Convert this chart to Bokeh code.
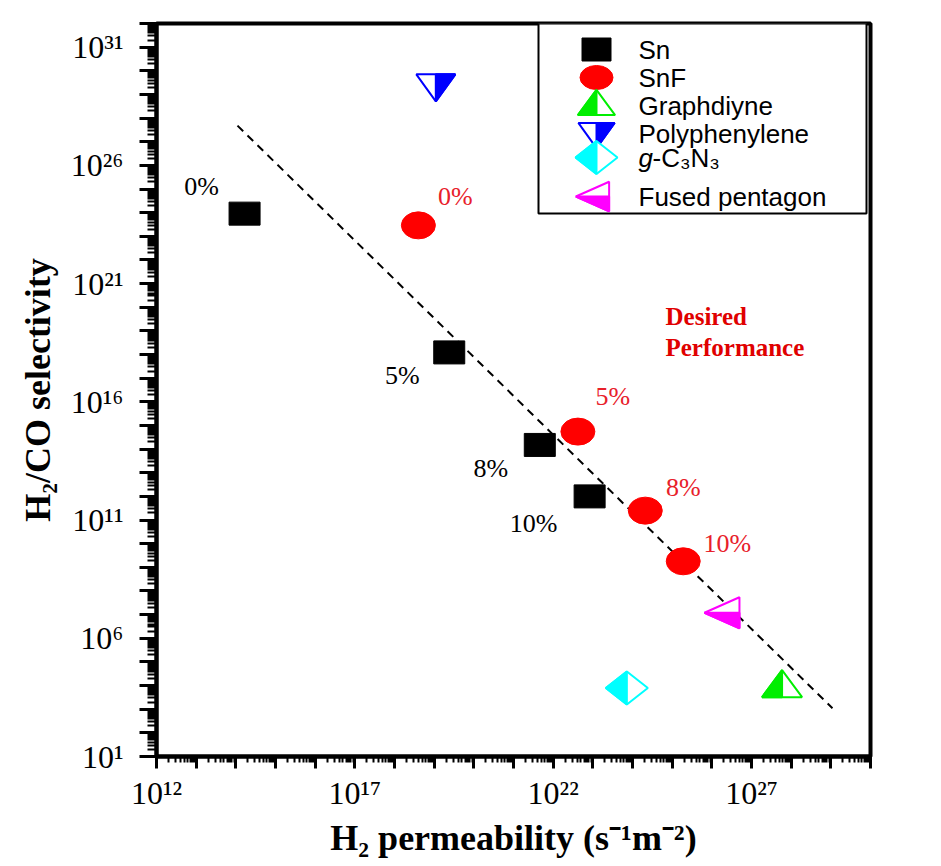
import numpy as np
from bokeh.plotting import figure
from bokeh.models import FixedTicker, CustomJSTickFormatter, Label
from bokeh.core.properties import value
from bokeh.embed import file_html
from bokeh.resources import INLINE

# ---------------- data ----------------
sn_perm = [1.66e14, 2.4e19, 4.6e21, 8.3e22]
sn_sel = [9.1e23, 1.23e18, 1.5e14, 1.0e12]
sn_labels = ["0%", "5%", "8%", "10%"]

snf_perm = [4.0e18, 4.2e22, 2.1e24, 1.9e25]
snf_sel = [2.9e23, 5.5e14, 2.5e11, 1.8e9]
snf_labels = ["0%", "5%", "8%", "10%"]

graphdiyne_perm = [5.9e27]
graphdiyne_sel = [1.2e4]
polyphenylene_perm = [1.1e19]
polyphenylene_sel = [1.9e29]
gc3n3_perm = [7.2e23]
gc3n3_sel = [7.9e3]
fused_perm = [1.8e26]
fused_sel = [1.2e7]

trend_perm = [1.1e14, 1.1e29]
trend_sel = [4.8e27, 1.1e3]

x_tick_exps = [12, 17, 22, 27]
x_tick_texts = ["10¹²", "10¹⁷", "10²²", "10²⁷"]
y_tick_exps = [1, 6, 11, 16, 21, 26, 31]
y_tick_texts = ["10¹", "10⁶", "10¹¹", "10¹⁶", "10²¹", "10²⁶", "10³¹"]

legend_names = ["Sn", "SnF", "Graphdiyne", "Polyphenylene", "g-C₃N₃", "Fused pentagon"]

# ---------------- layout ----------------
W, H = 941, 866
FL, FR, FT, FB = 156, 870, 23, 756
XE = (12, 30)
YE = (1, 32)
DX = (XE[1] - XE[0]) / (FR - FL)   # decades per px
DY = (YE[1] - YE[0]) / (FB - FT)

def px2x(px):
    return 10 ** (XE[0] + (px - FL) * DX)

def py2y(py):
    return 10 ** (YE[0] + (FB - py) * DY)

def shape_at(xv, yv, pts, scale=1.0):
    lx, ly = np.log10(xv), np.log10(yv)
    return ([10 ** (lx + dx * scale * DX) for dx, dy in pts],
            [10 ** (ly + dy * scale * DY) for dx, dy in pts])

TRI_UP = [(0, 13.5), (20, -13.5), (-20, -13.5)]
TRI_UP_LEFT = [(0, 13.5), (0, -13.5), (-20, -13.5)]
TRI_DOWN = [(-19.5, 13.5), (19.5, 13.5), (0, -13.5)]
TRI_DOWN_RIGHT = [(0, 13.5), (19.5, 13.5), (0, -13.5)]
DIAMOND = [(0, 16.5), (21, 0), (0, -16.5), (-21, 0)]
DIAMOND_LEFT = [(0, 16.5), (0, -16.5), (-21, 0)]
TRI_LEFT = [(-17.5, 0), (17.5, 15.5), (17.5, -15.5)]
TRI_LEFT_BOTTOM = [(-17.5, 0), (17.5, 0), (17.5, -15.5)]

GREEN, BLUE, CYAN, MAGENTA, RED = "#00EE00", "#0000FF", "#00FFFF", "#FF00FF", "#FF0000"
LABEL_RED = "#E8202A"
SERIF = "Liberation Serif"
SANS = "Liberation Sans"

p = figure(width=W, height=H, x_axis_type="log", y_axis_type="log",
           x_range=(10.0 ** XE[0], 10.0 ** XE[1]), y_range=(10.0 ** YE[0], 10.0 ** YE[1]),
           min_border_left=FL, min_border_right=W - FR, min_border_top=FT,
           min_border_bottom=H - FB, output_backend="svg", toolbar_location=None)
p.xgrid.visible = False
p.ygrid.visible = False
p.outline_line_color = "black"
p.outline_line_width = 4
p.background_fill_color = "white"
p.border_fill_color = "white"

# ticks
p.xaxis.ticker = FixedTicker(ticks=[10.0 ** k for k in range(XE[0], XE[1] + 1)],
                             minor_ticks=[m * 10.0 ** k for k in range(XE[0], XE[1]) for m in range(2, 10)])
p.yaxis.ticker = FixedTicker(ticks=[10.0 ** k for k in range(YE[0], YE[1] + 1)],
                             minor_ticks=[m * 10.0 ** k for k in range(YE[0], YE[1]) for m in range(2, 10)])
fmt_code = """
const e = Math.round(Math.log10(tick));
const i = exps.indexOf(e);
return i < 0 ? "" : texts[i];
"""
p.xaxis.formatter = CustomJSTickFormatter(args=dict(exps=x_tick_exps, texts=x_tick_texts), code=fmt_code)
p.yaxis.formatter = CustomJSTickFormatter(args=dict(exps=y_tick_exps, texts=y_tick_texts), code=fmt_code)

for ax in (p.xaxis[0], p.yaxis[0]):
    ax.axis_line_width = 4
    ax.axis_line_color = "black"
    ax.major_tick_line_width = 3
    ax.minor_tick_line_width = 2
    ax.major_tick_in = 0
    ax.minor_tick_in = 0
    ax.major_label_text_font = SERIF
    ax.major_label_text_font_size = "32px"
    ax.major_label_text_color = "black"
    ax.axis_label_text_font = SERIF
    ax.axis_label_text_font_style = "bold"
    ax.axis_label_text_font_size = "36px"
    ax.axis_label_text_color = "black"

p.xaxis.major_tick_out = 12
p.xaxis.minor_tick_out = 6
p.yaxis.major_tick_out = 17
p.yaxis.minor_tick_out = 9
p.xaxis.major_label_standoff = 6
p.yaxis.major_label_standoff = 16
p.xaxis.axis_label = "H₂ permeability (s⁻¹m⁻²)"
p.yaxis.axis_label = "H₂/CO selectivity"
p.xaxis.axis_label_standoff = 4
p.yaxis.axis_label_standoff = 10

# ---------------- legend box (drawn first, under everything) ----------------
p.quad(left=[px2x(538)], right=[px2x(866)], top=[py2y(FT)], bottom=[py2y(213)],
       fill_color="white", line_color="black", line_width=2)

# ---------------- trend line ----------------
p.line(trend_perm, trend_sel, line_color="black", line_width=2, line_dash="8 6")

# ---------------- markers ----------------
p.rect(sn_perm, sn_sel, width=31, height=23, width_units="screen", height_units="screen",
       fill_color="black", line_color="black")
p.ellipse(snf_perm, snf_sel, width=34, height=27, width_units="screen", height_units="screen",
          fill_color=RED, line_color=RED)

def half_marker(xs, ys, outline, half, color, scale=1.0):
    ox, oy, hx, hy = [], [], [], []
    for xv, yv in zip(xs, ys):
        a, b = shape_at(xv, yv, outline, scale)
        ox.append(a); oy.append(b)
        a, b = shape_at(xv, yv, half, scale)
        hx.append(a); hy.append(b)
    p.patches(ox, oy, fill_color="white", line_color=color, line_width=2)
    p.patches(hx, hy, fill_color=color, line_color=color, line_width=2)

half_marker(graphdiyne_perm, graphdiyne_sel, TRI_UP, TRI_UP_LEFT, GREEN)
half_marker(polyphenylene_perm, polyphenylene_sel, TRI_DOWN, TRI_DOWN_RIGHT, BLUE)
half_marker(gc3n3_perm, gc3n3_sel, DIAMOND, DIAMOND_LEFT, CYAN)
half_marker(fused_perm, fused_sel, TRI_LEFT, TRI_LEFT_BOTTOM, MAGENTA)

# ---------------- point labels ----------------
sn_off_x = [-43, -47, -49, -56]
sn_off_y = [-27, 23, 24, 27]
snf_off_x = [37, 35, 38, 44]
snf_off_y = [-29, -35, -23, -18]
p.text(x=sn_perm, y=sn_sel, text=sn_labels, x_offset=sn_off_x, y_offset=sn_off_y,
       text_align="center", text_baseline="middle", text_font=value(SERIF),
       text_font_size="26px", text_color="black")
p.text(x=snf_perm, y=snf_sel, text=snf_labels, x_offset=snf_off_x, y_offset=snf_off_y,
       text_align="center", text_baseline="middle", text_font=value(SERIF),
       text_font_size="26px", text_color=LABEL_RED)

for txt, py in (("Desired", 316), ("Performance", 347)):
    p.add_layout(Label(x=px2x(665), y=py2y(py), text=txt, text_align="left",
                       text_baseline="middle", text_font=SERIF,
                       text_font_style="bold", text_font_size="25px", text_color="#E00000"))

# ---------------- legend entries ----------------
LEG_MX = 596
LEG_TX = 638
LEG_FS = "26px"
leg_text_y = [49, 77, 105, 133, 157, 196]
leg_mark_y = [49, 77, 102, 135, 157, 196]

p.rect([px2x(LEG_MX)], [py2y(leg_mark_y[0])], width=29, height=23, width_units="screen",
       height_units="screen", fill_color="black", line_color="black")
p.ellipse([px2x(LEG_MX)], [py2y(leg_mark_y[1])], width=33, height=24, width_units="screen",
          height_units="screen", fill_color=RED, line_color=RED)
half_marker([px2x(LEG_MX)], [py2y(leg_mark_y[2])], TRI_UP, TRI_UP_LEFT, GREEN, 0.93)
half_marker([px2x(LEG_MX)], [py2y(leg_mark_y[3])], TRI_DOWN, TRI_DOWN_RIGHT, BLUE, 0.93)
half_marker([px2x(LEG_MX)], [py2y(leg_mark_y[4])], DIAMOND, DIAMOND_LEFT, CYAN, 1.0)
half_marker([px2x(LEG_MX - 4)], [py2y(leg_mark_y[5])], TRI_LEFT, TRI_LEFT_BOTTOM, MAGENTA, 0.95)

for name, py in zip(legend_names, leg_text_y):
    if name.startswith("g-"):
        p.add_layout(Label(x=px2x(LEG_TX), y=py2y(py), text="g", text_baseline="middle",
                           text_font=SANS, text_font_style="italic",
                           text_font_size=LEG_FS, text_color="black"))
        p.add_layout(Label(x=px2x(LEG_TX + 14), y=py2y(py), text=name[1:], text_baseline="middle",
                           text_font=SANS, text_font_size=LEG_FS, text_color="black"))
    else:
        p.add_layout(Label(x=px2x(LEG_TX), y=py2y(py), text=name, text_baseline="middle",
                           text_font=SANS, text_font_size=LEG_FS, text_color="black"))

open("out.html", "w").write(file_html(p, INLINE))
